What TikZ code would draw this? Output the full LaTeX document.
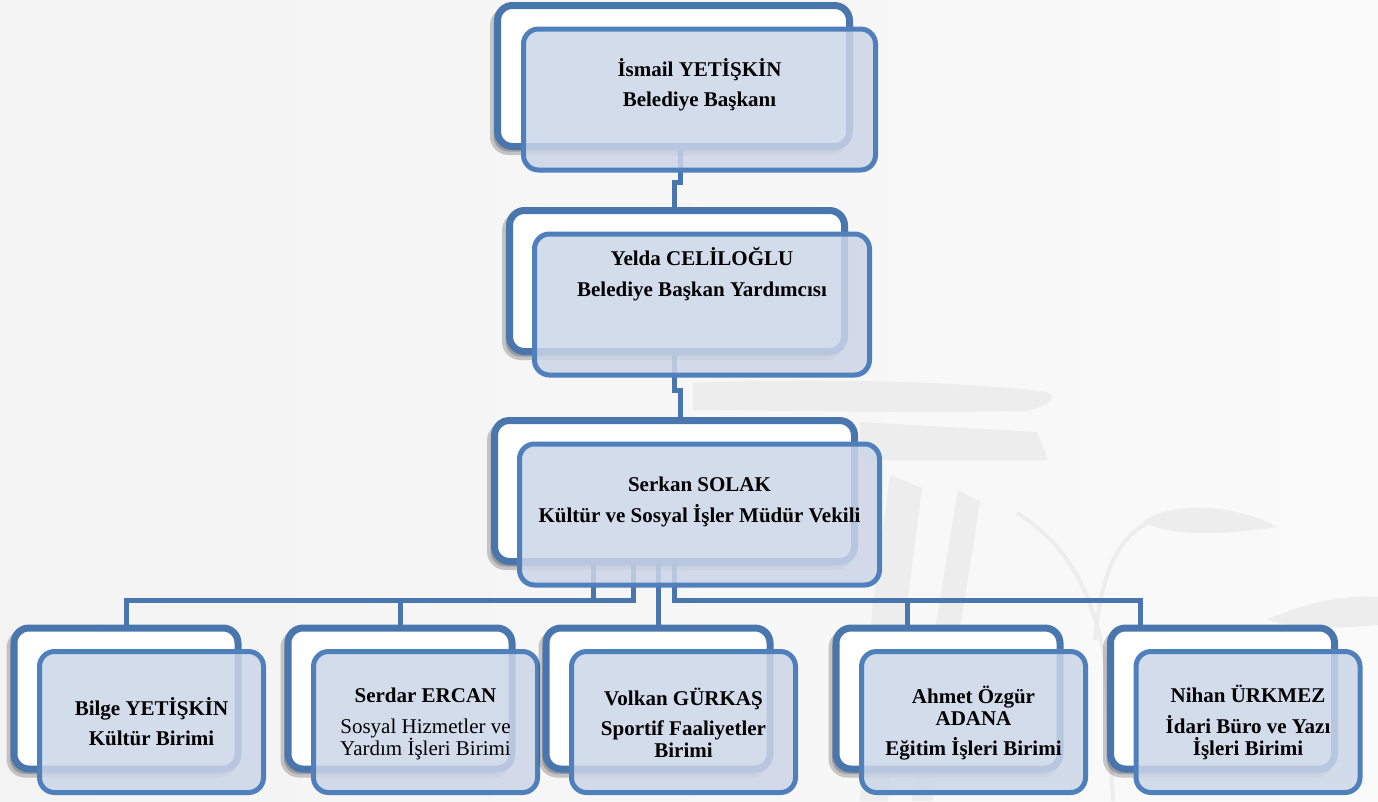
\documentclass[tikz,border=0pt]{standalone}
\usepackage{fontspec}
\setmainfont{Liberation Serif}
\usetikzlibrary{calc,positioning,shadows}

\definecolor{koyumavi}{RGB}{74,118,174}
\definecolor{acikmavi}{RGB}{80,128,188}
\definecolor{kutudolgu}{RGB}{204,214,232}
\definecolor{zeminsol}{RGB}{243,243,243}
\definecolor{zeminsag}{RGB}{250,250,250}
\definecolor{filigran}{RGB}{237,237,237}

\pgfdeclarelayer{zemin}
\pgfdeclarelayer{hatlar}
\pgfsetlayers{zemin,hatlar,main}

\tikzset{
  arka/.style={draw=koyumavi, line width=7pt, fill=white, rounded corners=15pt,
    minimum width=#1, minimum height=141pt, inner sep=0pt,
    drop shadow={shadow xshift=-4pt, shadow yshift=-5pt, opacity=.2, fill=black, draw=black, line width=7pt}},
  on/.style={draw=acikmavi, line width=5pt, fill=kutudolgu, fill opacity=.85,
    rounded corners=15pt, minimum width=#1, minimum height=141pt, inner sep=0pt},
  yazi/.style={anchor=base, align=center, font=\bfseries\fontsize{21}{22}\selectfont},
  baglanti/.style={draw=koyumavi, line width=5pt}
}

\begin{document}
\begin{tikzpicture}[x=1pt,y=-1pt]
  \useasboundingbox (0,0) rectangle (1378,801);
  \begin{pgfonlayer}{zemin}
    \shade[left color=zeminsol, right color=zeminsag] (0,0) rectangle (1378,801);
    % filigran
    \fill[filigran] (693,383) .. controls (850,376) and (1000,385) .. (1045,392) .. controls (1060,396) and (1050,405) .. (1027,411) .. controls (950,413) and (800,411) .. (693,410) -- cycle;
    \fill[filigran] (860,422) -- (1037,432) -- (1048,460) -- (860,460) -- cycle;
    \fill[filigran] (890,475) -- (922,488) -- (905,620) -- (888,801) -- (860,801) -- (872,610) -- cycle;
    \fill[filigran] (958,490) -- (980,502) -- (958,640) -- (932,801) -- (912,801) -- (935,630) -- cycle;
    \draw[filigran, line width=4pt] (1017,513) .. controls (1060,540) and (1090,580) .. (1105,660) -- (1113,801);
    \draw[filigran, line width=4pt] (1095,640) .. controls (1100,580) and (1115,540) .. (1147,523);
    \fill[filigran] (1143,522) .. controls (1170,500) and (1240,505) .. (1277,527) .. controls (1240,532) and (1180,540) .. (1143,522);
    \fill[filigran] (1267,620) .. controls (1310,600) and (1350,595) .. (1378,597) -- (1378,625) .. controls (1345,628) and (1300,630) .. (1267,620);
  \end{pgfonlayer}

  % baskan
  \node[arka=352pt] (baskan) at (673.5,76) {};
  \node[on=352pt] (baskan-on) at ($(baskan)+(26,23.5)$) {};
  \node[yazi] (baskan-yazi) at ([yshift=-6.5pt]baskan-on.center) {İsmail YETİŞKİN\\[8pt]Belediye Başkanı};

  % yardimci
  \node[arka=335pt] (yardimci) at (677,281) {};
  \node[on=335pt] (yardimci-on) at ($(yardimci)+(25,23.5)$) {};
  \node[yazi] (yardimci-yazi) at ([yshift=8.5pt]yardimci-on.center) {Yelda CELİLOĞLU\\[9pt]Belediye Başkan Yardımcısı};

  % mudur
  \node[arka=360pt] (mudur) at (674.5,491) {};
  \node[on=360pt] (mudur-on) at ($(mudur)+(25,23.5)$) {};
  \node[yazi] (mudur-yazi) at ([yshift=-7.5pt]mudur-on.center) {Serkan SOLAK\\[9pt]Kültür ve Sosyal İşler Müdür Vekili};

  % birimler
  \node[arka=224pt] (bilge) at (126,698.5) {};
  \node[on=224pt] (bilge-on) at ($(bilge)+(25.5,23.5)$) {};
  \node[yazi] (bilge-yazi) at ([yshift=-23pt]bilge-on.center) {Bilge YETİŞKİN\\[8pt]Kültür Birimi};

  \node[arka=224pt] (serdar) at (400,698.5) {};
  \node[on=224pt] (serdar-on) at ($(serdar)+(25.5,23.5)$) {};
  \node[yazi] (serdar-yazi) at ([yshift=-33pt]serdar-on.center) {Serdar ERCAN\\[9pt]\mdseries Sosyal Hizmetler ve\\\mdseries Yardım İşleri Birimi};

  \node[arka=224pt] (volkan) at (658,698.5) {};
  \node[on=224pt] (volkan-on) at ($(volkan)+(25.5,23.5)$) {};
  \node[yazi] (volkan-yazi) at ([yshift=-35pt]volkan-on.center) {Volkan GÜRKAŞ\\[8pt]Sportif Faaliyetler\\Birimi};

  \node[arka=224pt] (ahmet) at (948,698.5) {};
  \node[on=224pt] (ahmet-on) at ($(ahmet)+(25.5,23.5)$) {};
  \node[yazi] (ahmet-yazi) at ([yshift=-33pt]ahmet-on.center) {Ahmet Özgür\\ADANA\\[8pt]Eğitim İşleri Birimi};

  \node[arka=224pt] (nihan) at (1222.5,698.5) {};
  \node[on=224pt] (nihan-on) at ($(nihan)+(25.5,23.5)$) {};
  \node[yazi] (nihan-yazi) at ([yshift=-33pt]nihan-on.center) {Nihan ÜRKMEZ\\[9pt]İdari Büro ve Yazı\\İşleri Birimi};

  % baglantilar
  \begin{pgfonlayer}{hatlar}
    \draw[baglanti] ([xshift=6.5pt]baskan.south) -- ++(0,32) -| ([xshift=-3pt]yardimci.north);
    \draw[baglanti] ([xshift=-2.5pt]yardimci.south) -- ++(0,35) -| ([xshift=6pt]mudur.north);
    \draw[baglanti] ([xshift=-81.5pt]mudur.south) -- ++(0,35) -| (bilge.north);
    \draw[baglanti] ([xshift=-41pt]mudur.south) -- ++(0,35) -| (serdar.north);
    \draw[baglanti] (mudur.south -| volkan.north) -- (volkan.north);
    \draw[baglanti] (mudur.south) -- ++(0,35) -| ([xshift=-41pt]ahmet.north);
    \draw[baglanti] (mudur.south) -- ++(0,35) -| ([xshift=-82.5pt]nihan.north);
  \end{pgfonlayer}
\end{tikzpicture}
\end{document}
